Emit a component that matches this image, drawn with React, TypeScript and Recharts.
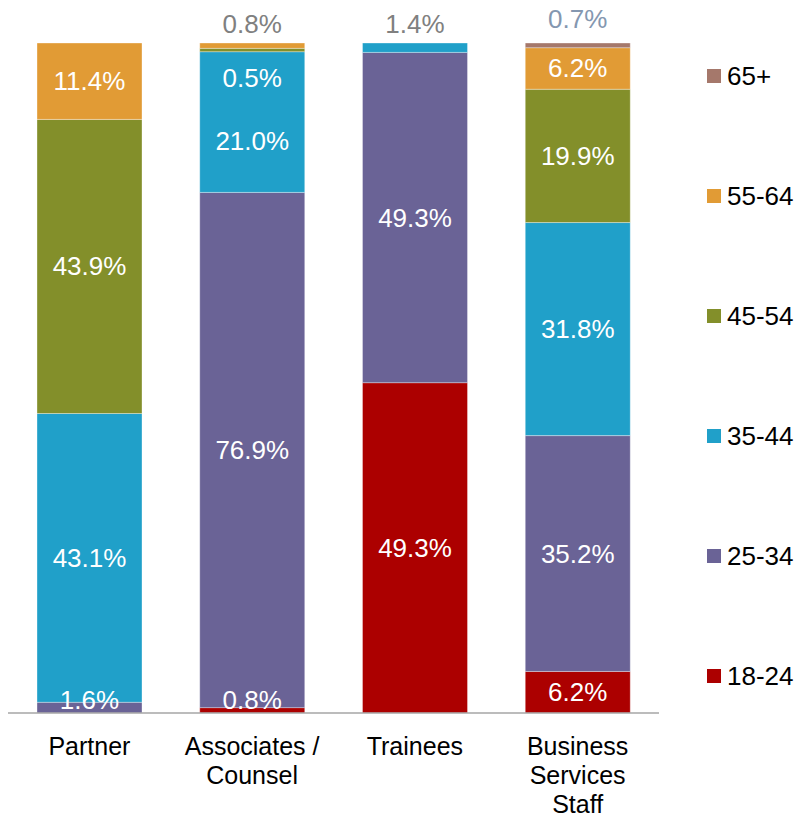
import React from "react";
import { BarChart, Bar, XAxis, YAxis, LabelList } from "recharts";

const categories = ["Partner", "Associates / Counsel", "Trainees", "Business Services Staff"];
const tickLines = [["Partner"], ["Associates /", "Counsel"], ["Trainees"], ["Business", "Services", "Staff"]];

const age18to24 = [0, 0.8, 49.3, 6.2];
const age25to34 = [1.6, 76.9, 49.3, 35.2];
const age35to44 = [43.1, 21.0, 1.4, 31.8];
const age45to54 = [43.9, 0.5, 0, 19.9];
const age55to64 = [11.4, 0.8, 0, 6.2];
const age65plus = [0, 0, 0, 0.7];

const series = [
  { key: "a18", name: "18-24", values: age18to24, color: "#ac0000" },
  { key: "a25", name: "25-34", values: age25to34, color: "#6a6396" },
  { key: "a35", name: "35-44", values: age35to44, color: "#20a0c9" },
  { key: "a45", name: "45-54", values: age45to54, color: "#838f2a" },
  { key: "a55", name: "55-64", values: age55to64, color: "#e19b35" },
  { key: "a65", name: "65+", values: age65plus, color: "#a5786b" },
];

const data = categories.map((cat, i) => {
  const row: Record<string, any> = { category: cat, idx: i };
  series.forEach((s) => (row[s.key] = s.values[i]));
  return row;
});

// manual nudges for labels that don't fit their segment
const labelTweaks: Record<string, { dy: number; fill?: string }> = {
  "a25-0": { dy: -8 },
  "a18-1": { dy: -10 },
  "a35-1": { dy: 19 },
  "a45-1": { dy: 28 },
  "a55-1": { dy: -22, fill: "#808080" },
  "a35-2": { dy: -24, fill: "#808080" },
  "a65-3": { dy: -26, fill: "#8497b0" },
};

const FONT = "'Liberation Sans', Arial, sans-serif";

// LabelList is fed the row index (idx), the value itself comes from the series array
const makeLabel = (s: { key: string; values: number[] }) => (props: any) => {
  const { x, y, width, height, value } = props;
  const i = Number(value);
  const v = s.values[i];
  if (!v) return null;
  const tweak = labelTweaks[`${s.key}-${i}`] || { dy: 0 };
  const cy = Number(y) + Number(height) / 2 + tweak.dy;
  return (
    <text
      x={Number(x) + Number(width) / 2}
      y={cy}
      textAnchor="middle"
      dominantBaseline="central"
      fill={tweak.fill || "#ffffff"}
      fontSize={26}
      fontFamily={FONT}
    >
      {v.toFixed(1)}%
    </text>
  );
};

const CategoryTick = (props: any) => {
  const { x, y, index } = props;
  const lines = tickLines[index] || [];
  return (
    <text x={x} y={y} textAnchor="middle" fill="#000" fontSize={25} fontFamily={FONT}>
      {lines.map((ln, i) => (
        <tspan key={i} x={x} dy={i === 0 ? 42 : 29}>
          {ln}
        </tspan>
      ))}
    </text>
  );
};

const legendCenters = [676, 556, 436, 316, 196, 76];

export default function App() {
  return (
    <div style={{ position: "absolute", left: 0, top: 0, width: 811, height: 832, background: "#fff" }}>
      <BarChart
        width={811}
        height={832}
        data={data}
        margin={{ top: 43, right: 152, bottom: 0, left: 8 }}
        barSize={105}
      >
        <YAxis hide domain={[0, 100]} />
        <XAxis
          dataKey="category"
          interval={0}
          height={119}
          tickLine={false}
          tickSize={0}
          tickMargin={0}
          axisLine={{ stroke: "#a6a6a6", strokeWidth: 1.5 }}
          tick={<CategoryTick />}
        />
        {series.map((s) => (
          <Bar
            key={s.key}
            dataKey={s.key}
            name={s.name}
            stackId="age"
            fill={s.color}
            stroke="rgba(255,255,255,0.45)"
            strokeWidth={0.75}
            isAnimationActive={false}
          >
            <LabelList dataKey="idx" content={makeLabel(s)} />
          </Bar>
        ))}
      </BarChart>
      {series.map((s, i) => (
        <div
          key={s.key}
          style={{
            position: "absolute",
            left: 707,
            top: legendCenters[i] - 15,
            height: 30,
            display: "flex",
            alignItems: "center",
            fontFamily: FONT,
            fontSize: 26,
            color: "#000",
            whiteSpace: "nowrap",
          }}
        >
          <span style={{ display: "inline-block", width: 14, height: 14, background: s.color, marginRight: 6 }} />
          {s.name}
        </div>
      ))}
    </div>
  );
}
